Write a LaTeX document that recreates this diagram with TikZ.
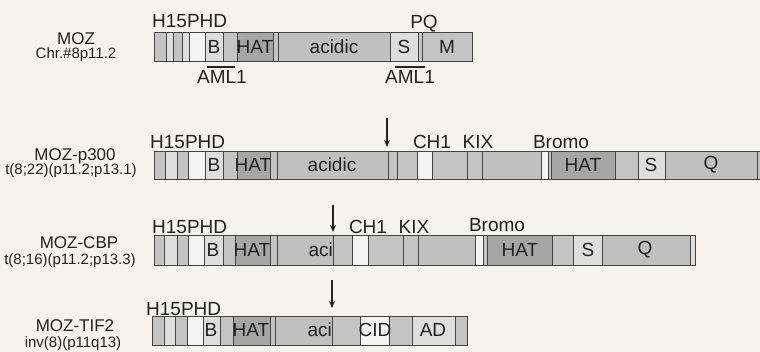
\documentclass[tikz,border=0pt]{standalone}
\usepackage{fontspec}
\setmainfont{Liberation Sans}
\usetikzlibrary{arrows.meta}
\definecolor{bgc}{HTML}{F4F3F0}
\definecolor{bordc}{HTML}{444444}
\definecolor{txtc}{HTML}{222222}
\definecolor{g1}{HTML}{C4C4C4}
\definecolor{g2}{HTML}{DEDEDE}
\definecolor{wh}{HTML}{F3F3F3}
\definecolor{hat}{HTML}{A6A6A6}
\definecolor{acid}{HTML}{C0C0C0}
\tikzset{
  segbox/.style={draw=bordc, line width=0.8pt},
  dom/.style={text=txtc, inner sep=0pt, font=\fontsize{19}{21}\selectfont},
  protname/.style={text=txtc, inner sep=0pt, font=\fontsize{17}{19}\selectfont},
  locname/.style={text=txtc, inner sep=0pt, font=\fontsize{15}{17}\selectfont},
  bpoint/.style={-{Stealth[length=7pt,width=6pt]}, line width=1.3pt, draw=txtc},
  amlline/.style={line width=1.6pt, draw=txtc}
}
\newcommand\protbar[3]{%
  \foreach \a/\b/\c in {#3} {
    \filldraw[segbox, fill=\c] (\a,#1) rectangle (\b,#2);
  }%
}
\begin{document}
\begin{tikzpicture}[x=1pt,y=-1pt]
\fill[bgc] (0,0) rectangle (760,352);
\useasboundingbox (0,0) rectangle (760,352);
\begin{scope}
\clip (0,0) rectangle (760,352);
% Row 1: MOZ
\protbar{32}{61}{154/166/g1,166/173/g2,173/182/g1,182/189/g2,189/205/wh,205/223/g2,223/237/g1,237/273/hat,273/278/g1,278/390/acid,390/418/g2,418/422/g1,422/472/g1}
% Row 2: MOZ-p300
\protbar{151}{179}{154/165/g1,165/177/g2,177/188/g1,188/205/wh,205/223/g2,223/237/g1,237/270/hat,270/277/g1,277/388/acid,388/397/g1,397/417/g1,417/432/wh,432/467/g1,467/482/g1,482/541/acid,541/548/wh,548/551/g1,551/615/hat,615/638/g1,638/665/g2,665/757/acid,757/775/g1}
% Row 3: MOZ-CBP
\protbar{235}{265}{154/164/g1,164/177/g2,177/188/g1,188/204/wh,204/223/g2,223/235/g1,235/270/hat,270/277/g1,277/333/acid,333/352/g1,352/368/wh,368/403/g1,403/418/g1,418/475/acid,475/483/wh,483/487/g1,487/552/hat,552/573/g1,573/602/g2,602/690/acid,690/695/g2}
% Row 4: MOZ-TIF2
\protbar{316}{345}{152/164/g1,164/175/g2,175/187/g1,187/203/wh,203/220/g2,220/233/g1,233/270/hat,270/275/g1,275/332/acid,332/360/g1,360/389/wh,389/412/g1,412/455/g2,455/467/g1}
\end{scope}

% names
\node[protname] (n1) at (76,39) {MOZ};
\node[locname] (l1) at (76,55) {Chr.\#8p11.2};
\node[protname] (n2) at (75,156) {MOZ-p300};
\node[locname] (l2) at (71,171) {t(8;22)(p11.2;p13.1)};
\node[protname] (n3) at (79,243) {MOZ-CBP};
\node[locname] (l3) at (70,261) {t(8;16)(p11.2;p13.3)};
\node[protname] (n4) at (75,326) {MOZ-TIF2};
\node[locname] (l4) at (73,344) {inv(8)(p11q13)};

% Row 1 labels
\node[dom, anchor=west] (h1) at (152,21) {H15PHD};
\node[dom] (r1b) at (214,47) {B};
\node[dom] (r1hat) at (255,47) {HAT};
\node[dom] (r1ac) at (334,47) {acidic};
\node[dom] (r1s) at (404,47) {S};
\node[dom] (r1m) at (447,47) {M};
\node[dom] (pq) at (424,24) {PQ};
\coordinate (a1s) at (207,67);
\coordinate (a1e) at (235,67);
\draw[amlline] (a1s) -- (a1e);
\node[dom] (aml1) at (222,77) {AML1};
\coordinate (a2s) at (395,67);
\coordinate (a2e) at (425,67);
\draw[amlline] (a2s) -- (a2e);
\node[dom] (aml2) at (410,77) {AML1};

% Row 2 labels
\node[dom, anchor=west] (h2) at (150,142) {H15PHD};
\node[dom] (r2b) at (214,165) {B};
\node[dom] (r2hat) at (253,165) {HAT};
\node[dom] (r2ac) at (332,165) {acidic};
\node[dom] (r2ch) at (432,142) {CH1};
\node[dom] (r2kix) at (478,142) {KIX};
\node[dom] (r2br) at (561,142) {Bromo};
\node[dom] (r2hat2) at (583,165) {HAT};
\node[dom] (r2s) at (651,165) {S};
\node[dom] (r2q) at (711,165) {Q};
\coordinate (b2s) at (387,118);
\coordinate (b2e) at (387,147);
\draw[bpoint] (b2s) -- (b2e);

% Row 3 labels
\node[dom, anchor=west] (h3) at (152,227) {H15PHD};
\node[dom] (r3b) at (213,250) {B};
\node[dom] (r3hat) at (252,250) {HAT};
\node[dom, anchor=east] (r3ac) at (333,250) {aci};
\node[dom] (r3ch) at (368,227) {CH1};
\node[dom] (r3kix) at (414,227) {KIX};
\node[dom] (r3br) at (497,225) {Bromo};
\node[dom] (r3hat2) at (520,250) {HAT};
\node[dom] (r3s) at (588,250) {S};
\node[dom] (r3q) at (645,250) {Q};
\coordinate (b3s) at (333,205);
\coordinate (b3e) at (333,232);
\draw[bpoint] (b3s) -- (b3e);

% Row 4 labels
\node[dom, anchor=west] (h4) at (146,309) {H15PHD};
\node[dom] (r4b) at (211,330) {B};
\node[dom] (r4hat) at (251,330) {HAT};
\node[dom, anchor=east] (r4ac) at (332,330) {aci};
\node[dom] (r4cid) at (375,330) {CID};
\node[dom] (r4ad) at (433,330) {AD};
\coordinate (b4s) at (332,280);
\coordinate (b4e) at (332,308);
\draw[bpoint] (b4s) -- (b4e);
\end{tikzpicture}
\end{document}
